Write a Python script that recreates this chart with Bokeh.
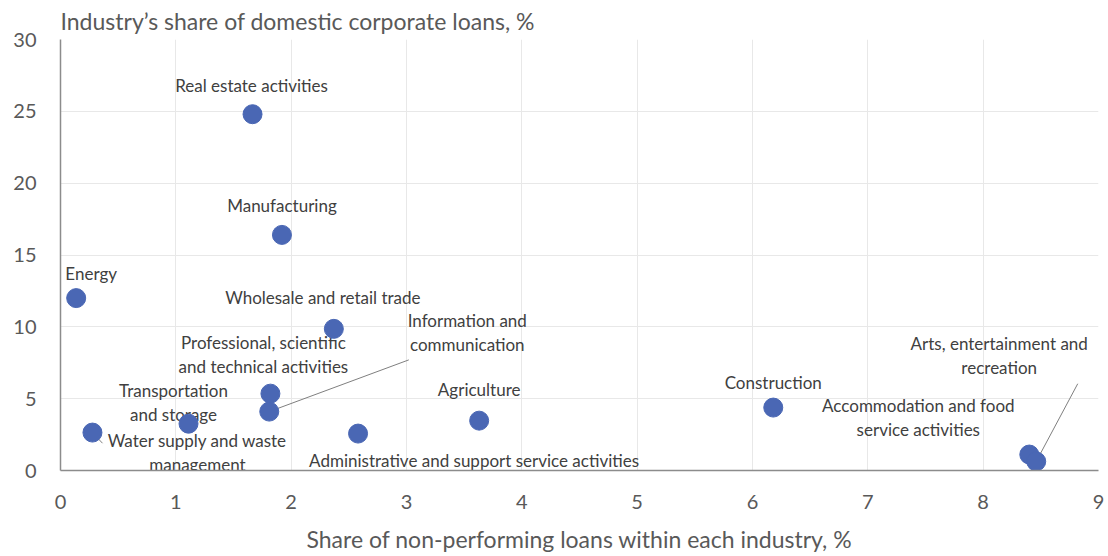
from bokeh.plotting import figure
from bokeh.models import ColumnDataSource, Range1d, FixedTicker
from bokeh.core.properties import value
from bokeh.embed import file_html
from bokeh.resources import INLINE

# ---- data ----
industries = [
    "Real estate activities",
    "Manufacturing",
    "Energy",
    "Wholesale and retail trade",
    "Professional, scientific\nand technical activities",
    "Information and\ncommunication",
    "Transportation\nand storage",
    "Water supply and waste\nmanagement",
    "Administrative and support service activities",
    "Agriculture",
    "Construction",
    "Accommodation and food\nservice activities",
    "Arts, entertainment and\nrecreation",
]
npl_share = [1.665, 1.92, 0.136, 2.37, 1.82, 1.81, 1.11, 0.277, 2.58, 3.63, 6.18, 8.40, 8.46]
loan_share = [24.8, 16.4, 12.0, 9.86, 5.35, 4.10, 3.26, 2.64, 2.57, 3.47, 4.38, 1.11, 0.63]

x_ticks = [0, 1, 2, 3, 4, 5, 6, 7, 8, 9]
y_ticks = [0, 5, 10, 15, 20, 25, 30]

title_text = "Industry\u2019s share of domestic corporate loans, %"
x_title = "Share of non-performing loans within each industry, %"

# ---- label placement (screen px offsets from each point; styling only) ----
label_dx = [-1, 0, 15, -11, -7, 198, -15, 105, 116, 0, 0, -111, -37]
label_dy = [-29, -29, -25, -31, -39, -79, -21, 20, 27, -31, -25, -37, -106]

# leader lines: index of industry, end point of leader (data units)
leader_idx = [5, 12, 7]
leader_end_x = [3.02, 8.82, 0.364]
leader_end_y = [7.7, 6.04, 1.9]

FONT = "Lato"
GREY = "#595959"
DOT = "#4A67B4"

p = figure(width=1108, height=556, output_backend="svg", toolbar_location=None,
           x_range=Range1d(0, 9), y_range=Range1d(0, 30),
           min_border_left=60, min_border_right=10, min_border_top=38, min_border_bottom=86)
p.outline_line_color = None
p.background_fill_color = "white"

p.title.text = title_text
p.title.align = "left"
p.title.text_font = FONT
p.title.text_font_size = "23px"
p.title.text_font_style = "normal"
p.title.text_color = GREY
p.title.standoff = 9

for ax in (p.xaxis[0], p.yaxis[0]):
    ax.major_tick_line_color = None
    ax.minor_tick_line_color = None
    ax.axis_line_color = "#8c8c8c"
    ax.axis_line_width = 1.5
    ax.major_label_text_font = FONT
    ax.major_label_text_font_size = "20px"
    ax.major_label_text_color = GREY

p.xaxis.ticker = FixedTicker(ticks=x_ticks)
p.yaxis.ticker = FixedTicker(ticks=y_ticks)
p.xaxis.major_label_standoff = 18
p.yaxis.major_label_standoff = 18
p.xaxis.axis_label = x_title
p.xaxis.axis_label_text_font = FONT
p.xaxis.axis_label_text_font_size = "23px"
p.xaxis.axis_label_text_font_style = "normal"
p.xaxis.axis_label_text_color = GREY
p.xaxis.axis_label_standoff = 13

p.xgrid.grid_line_color = "#e8e8e8"
p.ygrid.grid_line_color = "#e8e8e8"
p.xgrid.ticker = FixedTicker(ticks=x_ticks)
p.ygrid.ticker = FixedTicker(ticks=y_ticks)

src = ColumnDataSource(dict(x=npl_share, y=loan_share, name=industries,
                            dx=label_dx, dy=label_dy))

# leader lines
p.segment(x0=[npl_share[i] for i in leader_idx], y0=[loan_share[i] for i in leader_idx],
          x1=leader_end_x, y1=leader_end_y, line_color="#7f7f7f", line_width=1)

p.text(x="x", y="y", text="name", x_offset="dx", y_offset="dy", source=src,
       text_font=value(FONT), text_font_size="17px", text_color="#404040",
       text_align="center", text_baseline="middle", text_line_height=1.13)

p.scatter(x="x", y="y", source=src, size=19, fill_color=DOT, line_color=DOT)

open("out.html", "w").write(file_html(p, INLINE))
